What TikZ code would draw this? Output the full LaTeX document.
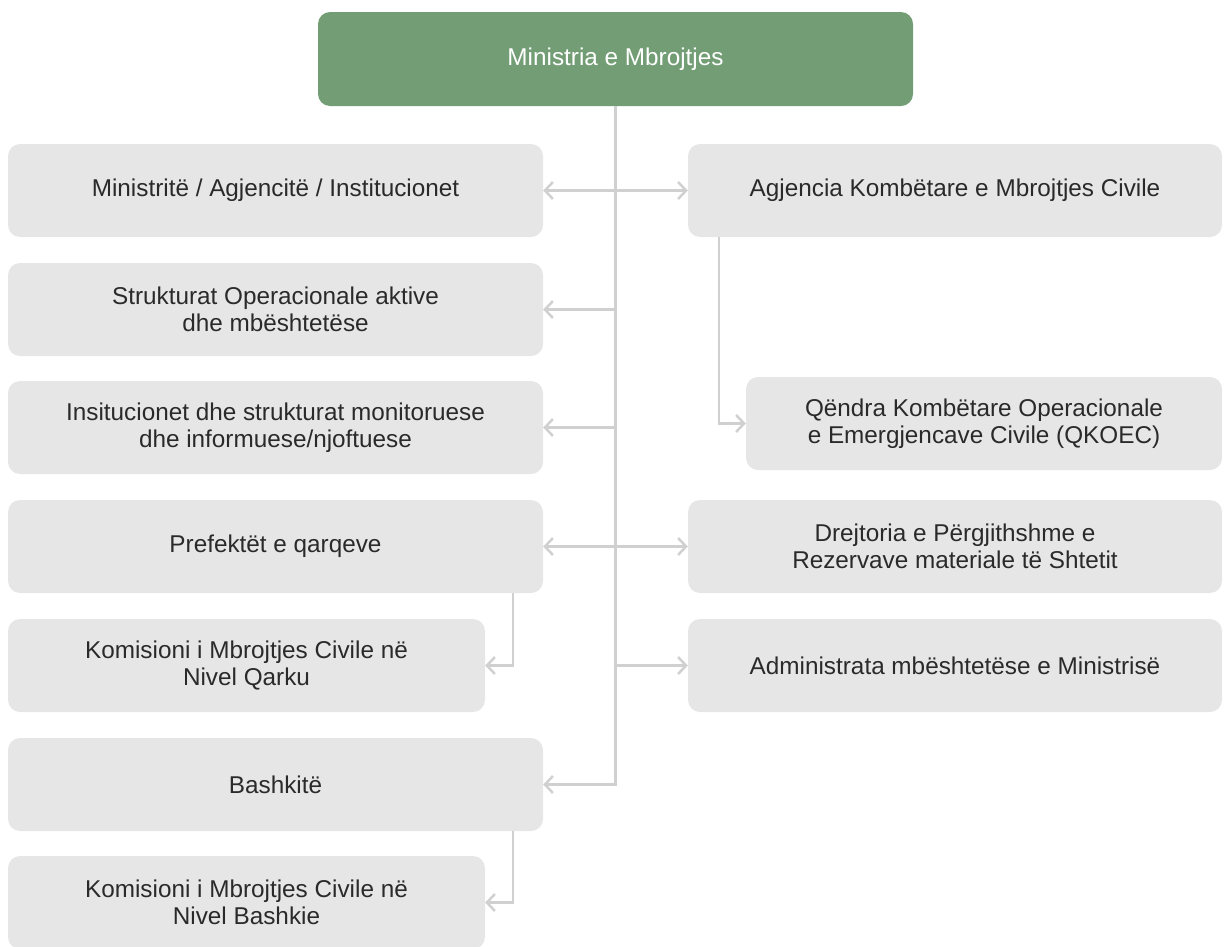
\documentclass[tikz,border=0pt]{standalone}
\usepackage{fontspec}
\setmainfont{Liberation Sans}
\usepackage{tikz}
\usetikzlibrary{arrows.meta,positioning}

\definecolor{mgreen}{HTML}{739E75}
\definecolor{boxgray}{HTML}{E6E6E6}
\definecolor{linegray}{HTML}{D0D0D0}
\definecolor{txtgray}{HTML}{2A2A2A}

\begin{document}
\begin{tikzpicture}[x=1pt,y=-1pt,
        box/.style={fill=boxgray, rounded corners=12pt, minimum height=93pt,
            align=center, text=txtgray, font=\fontsize{24.3}{27}\selectfont},
        head/.style={box, fill=mgreen, text=white, minimum width=595pt, minimum height=94pt},
        wide/.style={minimum width=535pt},
        narrow/.style={minimum width=477pt},
        conn/.style={draw=linegray, line width=2.5pt},
        arr/.style={conn, -{Straight Barb[length=8pt,width=17pt,line width=2.5pt]}},
        darr/.style={conn, {Straight Barb[length=8pt,width=17pt,line width=2.5pt]}-{Straight Barb[length=8pt,width=17pt,line width=2.5pt]}}]
                \useasboundingbox (0,0) rectangle (1225,946);

                \node[head] (mm) at (615.5,59) {Ministria e Mbrojtjes};

                % left column
                \node[box, wide] (mai) at (275.5,190.5) {Ministritë / Agjencitë / Institucionet};
                \node[box, wide] (sop) at (275.5,309.5) {Strukturat Operacionale aktive\\dhe mbështetëse};
                \node[box, wide] (ism) at (275.5,427.5) {Insitucionet dhe strukturat monitoruese\\dhe informuese/njoftuese};
                \node[box, wide] (pq) at (275.5,546.5) {Prefektët e qarqeve};
                \node[box, narrow] (kmq) at (246.5,665.5) {Komisioni i Mbrojtjes Civile në\\Nivel Qarku};
                \node[box, wide] (bsh) at (275.5,784.5) {Bashkitë};
                \node[box, narrow] (kmb) at (246.5,902.5) {Komisioni i Mbrojtjes Civile në\\Nivel Bashkie};

                % right column
                \node[box, minimum width=534pt] (akm) at (955,190.5) {Agjencia Kombëtare e Mbrojtjes Civile};
                \node[box, minimum width=476pt] (qko) at (984,423.5) {Qëndra Kombëtare Operacionale\\e Emergjencave Civile (QKOEC)};
                \node[box, minimum width=534pt] (drm) at (955,546.5) {Drejtoria e Përgjithshme e\\Rezervave materiale të Shtetit};
                \node[box, minimum width=534pt] (amm) at (955,665.5) {Administrata mbështetëse e Ministrisë};

                % trunk and branches
                \draw[arr] (mm.south) |- (bsh.east);
                \draw[darr] (mai.east) -- (akm.west);
                \draw[arr] (sop.east -| mm.south) -- (sop.east);
                \draw[arr] (ism.east -| mm.south) -- (ism.east);
                \draw[darr] (pq.east) -- (drm.west);
                \draw[arr] (amm.west -| mm.south) -- (amm.west);

                \draw[arr] ([xshift=31pt]akm.south west) |- (qko.west);
                \draw[arr] ([xshift=-30pt]pq.south east) |- (kmq.east);
                \draw[arr] ([xshift=-30pt]bsh.south east) |- (kmb.east);
            \end{tikzpicture}
\end{document}
